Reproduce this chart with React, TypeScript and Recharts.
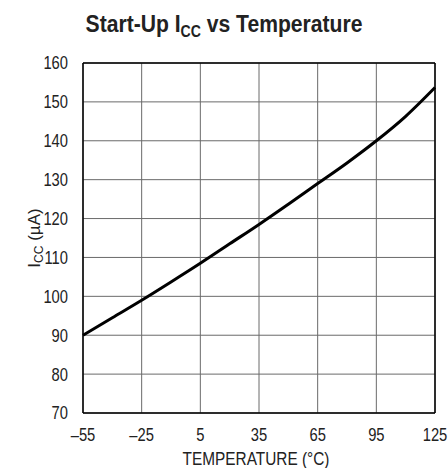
import { LineChart, Line, XAxis, YAxis, CartesianGrid, ReferenceLine } from 'recharts';

const temperatures = [-55, -40, -25, -10, 5, 20, 35, 50, 65, 80, 95, 110, 125];
const startupIcc = [90, 94.5, 99, 103.7, 108.5, 113.5, 118.5, 123.7, 129, 134.3, 140, 146.3, 153.7];
const xTicks = [-55, -25, 5, 35, 65, 95, 125];
const yTicks = [70, 80, 90, 100, 110, 120, 130, 140, 150, 160];

const FONT = '"Liberation Sans", Arial, sans-serif';
const SQUEEZE = 0.82;

const data = temperatures.map((t, i) => ({ t, icc: startupIcc[i] }));

const fmt = (v: number) => String(v).replace('-', '\u2013');

function XTick(props: any) {
  const { x, y, payload } = props;
  return (
    <text
      transform={`translate(${x},${y}) scale(${SQUEEZE},1)`}
      textAnchor="middle"
      dy="0.71em"
      fontSize={18}
      fontFamily={FONT}
      fill="#222"
    >
      {fmt(payload.value)}
    </text>
  );
}

function YTick(props: any) {
  const { x, y, payload } = props;
  return (
    <text
      transform={`translate(${x},${y}) scale(${SQUEEZE},1)`}
      textAnchor="end"
      dy="0.355em"
      fontSize={18}
      fontFamily={FONT}
      fill="#222"
    >
      {fmt(payload.value)}
    </text>
  );
}

export default function App() {
  return (
    <div style={{ position: 'absolute', left: 0, top: 0, width: 448, height: 468, background: '#fff' }}>
      <LineChart
        width={448}
        height={468}
        data={data}
        margin={{ top: 63, right: 13, bottom: 25, left: 43 }}
      >
        <CartesianGrid stroke="#6a6a6a" strokeWidth={1} />
        <XAxis
          dataKey="t"
          type="number"
          domain={[-55, 125]}
          ticks={xTicks}
          tickLine={false}
          axisLine={{ stroke: '#000', strokeWidth: 1.5 }}
          height={30}
          tick={<XTick />}
          tickMargin={9}
          interval={0}
        />
        <YAxis
          type="number"
          domain={[70, 160]}
          ticks={yTicks}
          tickLine={false}
          axisLine={{ stroke: '#000', strokeWidth: 1.5 }}
          width={40}
          tick={<YTick />}
          tickMargin={9}
          interval={0}
        />
        <ReferenceLine y={160} stroke="#000" strokeWidth={1.5} />
        <ReferenceLine x={125} stroke="#000" strokeWidth={1.5} />
        <Line
          dataKey="icc"
          type="monotone"
          stroke="#000"
          strokeWidth={3}
          dot={false}
          isAnimationActive={false}
        />
      </LineChart>
      <svg
        width={448}
        height={468}
        style={{ position: 'absolute', left: 0, top: 0, pointerEvents: 'none' }}
        fontFamily={FONT}
        fill="#222"
      >
        <text
          transform="translate(224,32) scale(0.88,1)"
          textAnchor="middle"
          fontSize={24}
          fontWeight="bold"
        >
          Start-Up I
          <tspan fontSize={16} dy={5}>CC</tspan>
          <tspan dy={-5}> vs Temperature</tspan>
        </text>
        <text transform="translate(256,465) scale(0.855,1)" textAnchor="middle" fontSize={18}>
          TEMPERATURE (°C)
        </text>
        <text transform="translate(40,238) rotate(-90)" textAnchor="middle" fontSize={17}>
          I
          <tspan fontSize={12} dy={2.5}>CC</tspan>
          <tspan dy={-2.5}> (µA)</tspan>
        </text>
      </svg>
    </div>
  );
}
